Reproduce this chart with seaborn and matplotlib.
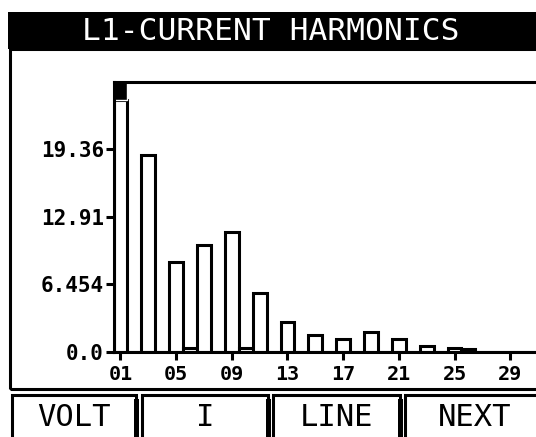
import numpy as np
import pandas as pd
import seaborn as sns
import matplotlib
matplotlib.use('Agg')
import matplotlib.pyplot as plt
from matplotlib.patches import Rectangle

# harmonic order 1..31 and amplitude (A)
harmonics = list(range(1, 32))
amplitude = [24.1, 0.0, 18.8, 0.0, 8.54, 0.3, 10.2, 0.0, 11.46, 0.3,
             5.63, 0.0, 2.79, 0.0, 1.58, 0.0, 1.2, 0.0, 1.84, 0.0,
             1.2, 0.0, 0.55, 0.0, 0.3, 0.25, 0.0, 0.0, 0.0, 0.0, 0.0]
y_ticks = [0.0, 6.454, 12.91, 19.36]
y_tick_labels = ['0.0', '6.454', '12.91', '19.36']
x_tick_labels = ['01', '05', '09', '13', '17', '21', '25', '29']
y_max = 25.816
title = 'L1-CURRENT HARMONICS'
buttons = ['VOLT', 'I', 'LINE', 'NEXT']

W, H = 536, 437
sns.set_style('white')
plt.rcParams['font.family'] = ['DejaVu Sans Mono', 'DejaVu Sans']
plt.rcParams['text.color'] = 'black'

fig = plt.figure(figsize=(W / 100, H / 100), dpi=100)


def fx(x):
    return x / W


def fy(y):
    return 1 - y / H


lw = 2.2

# title bar and outer frame
fig.add_artist(Rectangle((fx(8), fy(49)), fx(540) - fx(8), fy(12) - fy(49),
                         transform=fig.transFigure, facecolor='black', edgecolor='none'))
fig.text(fx(271), fy(31), title, color='white', fontsize=22.5, ha='center', va='center')
fig.add_artist(Rectangle((fx(10), fy(389)), fx(545) - fx(10), fy(49) - fy(389),
                         transform=fig.transFigure, facecolor='none', edgecolor='black', linewidth=lw))

# soft keys
btn_edges = [(12, 136), (142, 268), (273, 400), (405, 545)]
for (x0, x1), lab in zip(btn_edges, buttons):
    fig.add_artist(Rectangle((fx(x0), fy(445)), fx(x1) - fx(x0), fy(395) - fy(445),
                             transform=fig.transFigure, facecolor='white', edgecolor='black', linewidth=lw))
    fig.add_artist(Rectangle((fx(x1 - 2), fy(445)), fx(5), fy(399) - fy(445),
                             transform=fig.transFigure, facecolor='black', edgecolor='none'))
    fig.text(fx((x0 + x1) / 2), fy(418), lab, color='black', fontsize=22, ha='center', va='center')

# harmonic bar plot
ax = fig.add_axes([fx(113.5), fy(351.5), fx(545) - fx(113.5), fy(81.7) - fy(351.5)])
df = pd.DataFrame({'h': harmonics, 'amp': amplitude})
sns.barplot(data=df, x='h', y='amp', order=harmonics, color='white', edgecolor='black',
            linewidth=lw, width=1.0, saturation=1, ax=ax)
# overflow marker on the fundamental
ax.bar(0, y_max - amplitude[0], bottom=amplitude[0], width=1.0, color='black')

ax.set_ylim(0, y_max)
ax.set_xlim(-0.5, len(harmonics) - 0.5)
ax.set_yticks(y_ticks)
ax.set_yticklabels(y_tick_labels, fontsize=15, fontweight='bold')
ax.set_xticks(list(range(0, 29, 4)))
ax.set_xticklabels(x_tick_labels, fontsize=14.5, fontweight='bold')
ax.set_xlabel('')
ax.set_ylabel('')
for side in ['left', 'top', 'bottom']:
    ax.spines[side].set_linewidth(lw)
    ax.spines[side].set_color('black')
ax.spines['right'].set_visible(False)
ax.tick_params(axis='both', direction='out', length=6, width=lw, color='black', pad=1,
               labelcolor='black', left=True, bottom=True)
ax.tick_params(axis='x', pad=4)

fig.savefig('out.png', dpi=100)
